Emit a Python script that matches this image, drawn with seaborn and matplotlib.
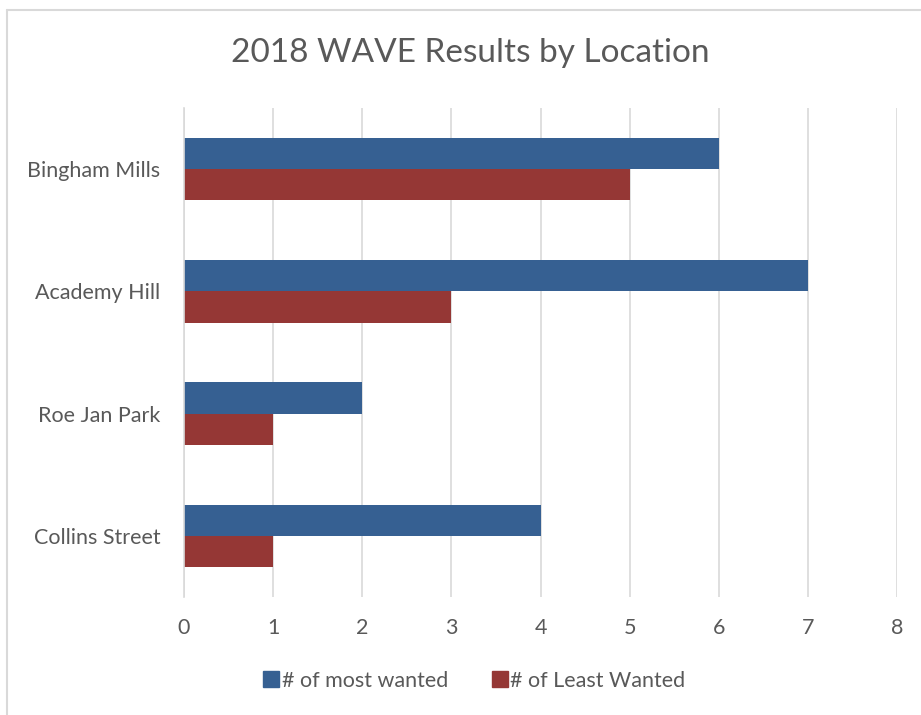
import matplotlib
matplotlib.use("Agg")
import matplotlib.pyplot as plt
from matplotlib.lines import Line2D
import seaborn as sns
import pandas as pd

locations = ["Bingham Mills", "Academy Hill", "Roe Jan Park", "Collins Street"]
most_wanted = [6, 7, 2, 4]
least_wanted = [5, 3, 1, 1]
series_names = ["# of most wanted", "# of Least Wanted"]
colors = ["#366092", "#953735"]

df = pd.DataFrame({
    "location": locations * 2,
    "count": most_wanted + least_wanted,
    "series": [series_names[0]] * len(locations) + [series_names[1]] * len(locations),
})

sns.set_style("white")
plt.rcParams["font.family"] = ["Lato", "DejaVu Sans"]
text_color = "#595959"

fig = plt.figure(figsize=(9.21, 7.15), dpi=100)
ax = fig.add_axes([184 / 921, 1 - 597 / 715, (897 - 184) / 921, (597 - 108) / 715])

sns.barplot(
    data=df, x="count", y="location", hue="series",
    hue_order=series_names, palette=colors, orient="h",
    width=0.51, ax=ax, legend=False, saturation=1,
    edgecolor="none",
)

ax.set_xlim(0, 8)
ax.set_xticks(range(0, 9))
ax.xaxis.grid(True, color="#d9d9d9", linewidth=1.2)
ax.set_axisbelow(True)
for s in ["top", "right", "bottom"]:
    ax.spines[s].set_visible(False)
ax.spines["left"].set_color("#d9d9d9")
ax.spines["left"].set_linewidth(1.2)
ax.set_xlabel("")
ax.set_ylabel("")
ax.tick_params(axis="both", length=0, labelsize=15.5, colors=text_color)
ax.tick_params(axis="x", pad=15)
ax.tick_params(axis="y", pad=17)

fig.text(470 / 921, 1 - 53 / 715, "2018 WAVE Results by Location",
         ha="center", va="center", fontsize=24, color=text_color)

handles = [Line2D([], [], marker="s", linestyle="none", markersize=11,
                  markerfacecolor=c, markeredgecolor=c) for c in colors]
fig.legend(handles, series_names, loc="center", bbox_to_anchor=(474 / 921, 1 - 681 / 715),
           ncol=2, frameon=False, fontsize=15.5, labelcolor=text_color,
           handletextpad=0.1, columnspacing=2.0, handlelength=0.8)

# chart frame (top and left edges visible)
fig.add_artist(Line2D([6.5 / 921, 6.5 / 921], [0, 1 - 9.5 / 715], transform=fig.transFigure,
                      color="#d9d9d9", linewidth=1.5))
fig.add_artist(Line2D([6.5 / 921, 1], [1 - 9.5 / 715, 1 - 9.5 / 715], transform=fig.transFigure,
                      color="#d9d9d9", linewidth=1.5))

fig.savefig("out.png", dpi=100)
